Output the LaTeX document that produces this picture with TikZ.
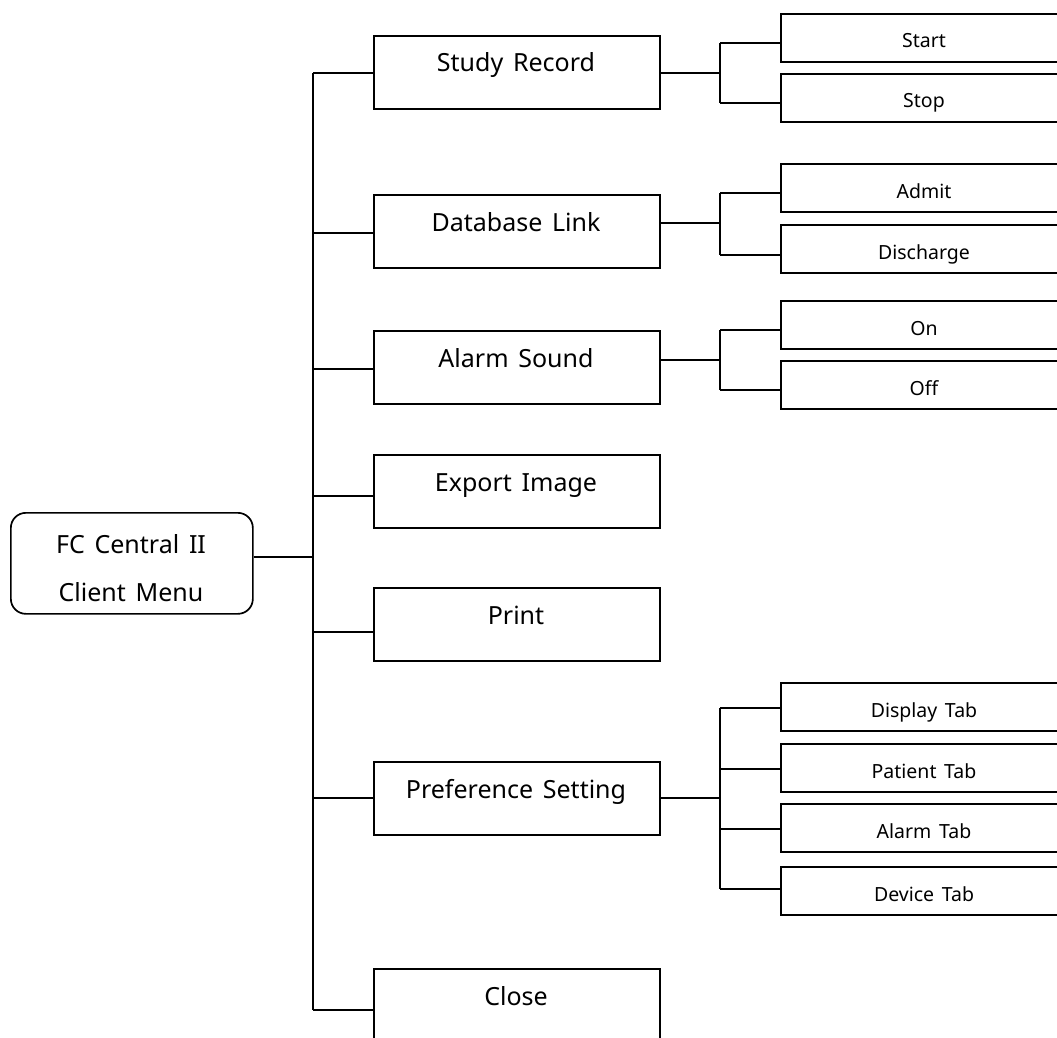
\documentclass[tikz,border=0pt]{standalone}
\usepackage{fontspec}
\setmainfont{Noto Sans}[WordSpace=1.5]
\begin{document}
\begin{tikzpicture}[x=1pt,y=-1pt,
  ln/.style={line width=1.7pt},
  mbox/.style={draw, line width=1.7pt, rectangle, inner sep=0pt, minimum width=286pt, minimum height=73pt, anchor=north west},
  sbox/.style={draw, line width=1.7pt, rectangle, inner sep=0pt, minimum width=330pt, minimum height=48pt, anchor=north west},
  rbox/.style={draw, line width=1.7pt, rectangle, rounded corners=15pt, inner sep=0pt, minimum width=242pt, minimum height=101pt, anchor=north west},
  big/.style={font=\fontsize{25}{30}\selectfont, anchor=base, inner sep=0pt},
  small/.style={font=\fontsize{19.5}{23}\selectfont, anchor=base, inner sep=0pt}]
\useasboundingbox (0,0) rectangle (1057,1038);
\clip (0,0) rectangle (1057,1038);

% root
\node[rbox] (root) at (10,512) {};
\node[big] (rootA) at (131,553) {FC Central II};
\node[big] (rootB) at (131,601) {Client Menu};

% trunk
\coordinate (rj) at (313,557);
\coordinate (ttop) at (313,73);
\coordinate (tbot) at (313,1010);
\draw[ln] (root.east |- rj) -- (rj);
\draw[ln] (ttop) -- (tbot);

% main boxes
\foreach \n/\t/\c/\txt in {sr/35/73/Study Record, db/194/233/Database Link, as/330/369/Alarm Sound, ei/454/496/Export Image, pr/587/632/Print, ps/761/798/Preference Setting, cl/968/1010/Close} {
  \node[mbox] (\n) at (373,\t) {};
  \node[big] (\n-t) at (516,\t+37) {\txt};
  \coordinate (\n-j) at (313,\c);
  \draw[ln] (\n-j) -- (\n.west |- \n-j);
}

% sub-branches
\foreach \n/\c/\a/\b in {sr/73/43/103, db/223/193/255, as/360/330/390, ps/798/708/889} {
  \coordinate (\n-r) at (720,\c);
  \coordinate (\n-ra) at (720,\a);
  \coordinate (\n-rb) at (720,\b);
  \draw[ln] (\n.east |- \n-r) -- (\n-r);
  \draw[ln] (\n-ra) -- (\n-rb);
}

% sub boxes
\foreach \n/\t/\c/\txt in {start/13/43/Start, stop/73/103/Stop, admit/163/193/Admit, disch/224/255/Discharge, on/300/330/On, off/360/390/Off, disp/682/708/Display Tab, pat/743/769/Patient Tab, alarm/803/829/Alarm Tab, dev/866/889/Device Tab} {
  \node[sbox] (\n) at (780,\t) {};
  \node[small] (\n-t) at (924,\t+35) {\txt};
  \coordinate (\n-j) at (720,\c);
  \draw[ln] (\n-j) -- (\n.west |- \n-j);
}
\end{tikzpicture}
\end{document}
